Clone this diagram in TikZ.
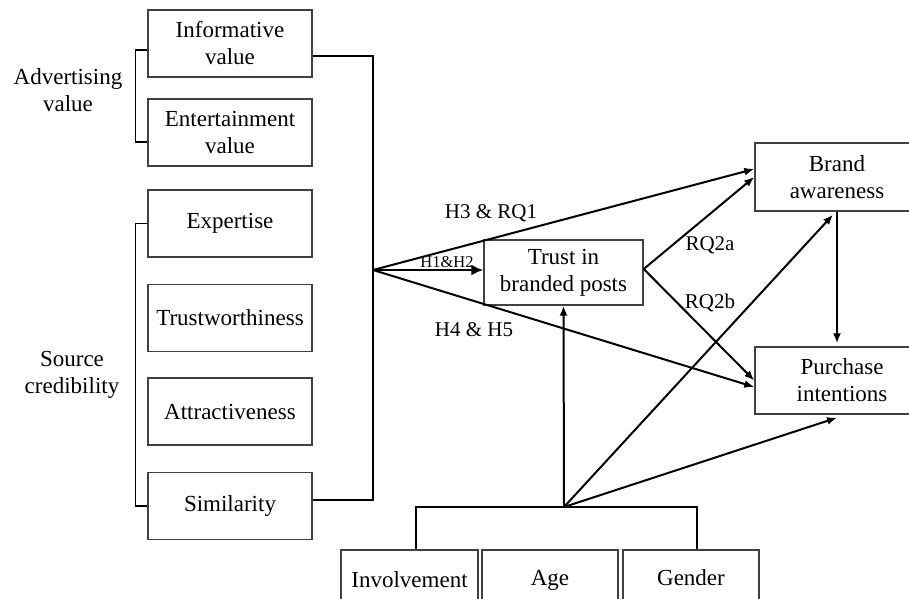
\documentclass[tikz,border=0pt]{standalone}
\usepackage{fontspec}
\setmainfont{Liberation Serif}
\usepackage{tikz}
\usetikzlibrary{positioning,arrows.meta}

\begin{document}
\begin{tikzpicture}[
        x=1pt, y=-1pt,
        box/.style={draw=black!75, line width=1.4pt, align=center, inner sep=0pt,
            font=\fontsize{23}{27}\selectfont},
        varbox/.style={box, minimum width=164pt, minimum height=67pt},
        link/.style={draw, line width=2pt},
        arr/.style={link, -{Latex[length=10pt,width=8pt]}},
        lbl/.style={font=\fontsize{21}{24}\selectfont, inner sep=0pt},
        >=latex
    ]
    \path[use as bounding box, clip] (0,0) rectangle (909,598);

    % predictors
    \node[varbox] (info) at (230,43.5) {Informative\\value};
    \node[varbox] (ent) at (230,132.5) {Entertainment\\value};
    \node[varbox] (exp) at (230,223.5) {Expertise};
    \node[varbox] (trw) at (230,318) {Trustworthiness};
    \node[varbox] (att) at (230,411.5) {Attractiveness};
    \node[varbox] (sim) at (230,506) {Similarity};

    % group labels
    \node[box, draw=none] (adv) at (68,90.5) {Advertising\\value};
    \node[box, draw=none] (src) at (72,374.5) {Source\\credibility};

    % outcomes
    \node[box, minimum width=159pt, minimum height=65pt] (trust) at (563.5,272.5) {Trust in\\branded posts};
    \node[box, minimum width=164pt, minimum height=68pt] (brand) at (837,177) {Brand\\awareness};
    \node[box, minimum width=174pt, minimum height=67pt] (purch) at (842,380.5) {Purchase\\intentions};

    % moderators
    \node[box, minimum width=137pt, minimum height=60pt] (inv) at (409.5,580) {Involvement};
    \node[box, minimum width=136pt, minimum height=60pt] (age) at (550,580) {Age};
    \node[box, minimum width=136pt, minimum height=56pt] (gen) at (691,578) {Gender};

    \coordinate (bustop) at (373,56);
    \coordinate (busbot) at (373,500);
    \coordinate (hub) at (373,270);
    \coordinate (mod) at (564,507);

    % brackets
    \draw[line width=1.4pt] ([yshift=-6.5pt]info.west) -- ++(-12,0) |- ([yshift=-9.5pt]ent.west);
    \draw[line width=1.4pt] (exp.west) -- ++(-12,0) |- (sim.west);

    \draw[link] (info.east |- bustop) -- (bustop) -- (busbot) -- (sim.east |- busbot);

    \draw[arr] (hub) -- ([yshift=8pt]brand.west);
    \draw[link, -{Latex[length=12pt,width=11pt]}] (hub) -- ([yshift=2.5pt]trust.west);
    \draw[arr] (hub) -- ([yshift=-6.5pt]purch.west);
    \draw[arr] ([yshift=3.5pt]trust.east) -- (brand.west);
    \draw[arr] ([yshift=3.5pt]trust.east) -- (purch.west);
    \draw[arr] (brand.south) -- ([yshift=3pt]brand.south |- purch.north);

    \draw[link] ([xshift=6.5pt]inv.north) |- (mod) -| ([xshift=6pt]gen.north);
    \draw[arr] (mod) -- (trust.south);
    \draw[arr] (mod) -- ([xshift=-4pt, yshift=-3pt]brand.south);
    \draw[arr] (mod) -- ([xshift=-5pt, yshift=-3pt]purch.south);

    % path labels
    \node[lbl] (lh3) at (491,213) {H3 \& RQ1};
    \node[lbl, font=\fontsize{16.5}{20}\selectfont] (lh1) at (447,262) {H1\&H2};
    \node[lbl] (lh4) at (474,330) {H4 \& H5};
    \node[lbl] (lrq2a) at (710,245) {RQ2a};
    \node[lbl] (lrq2b) at (710,303) {RQ2b};
\end{tikzpicture}
\end{document}
